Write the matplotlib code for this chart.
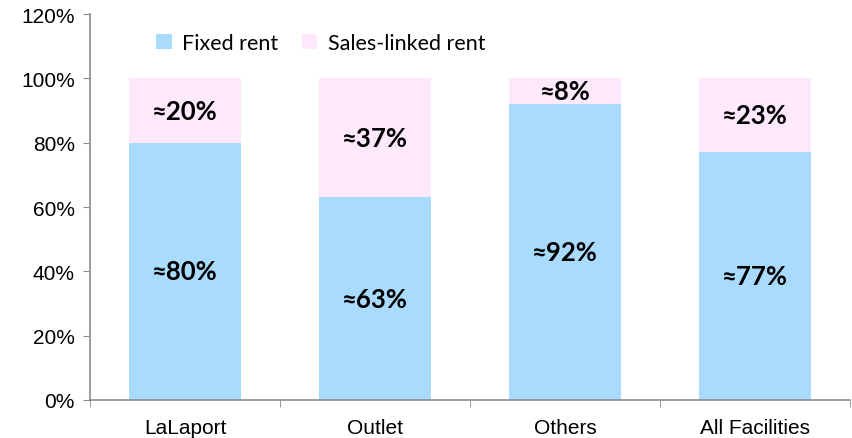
import matplotlib.pyplot as plt
import numpy as np
from matplotlib.ticker import FuncFormatter

categories = ["LaLaport", "Outlet", "Others", "All Facilities"]
fixed_rent = [80, 63, 92, 77]
sales_linked = [20, 37, 8, 23]
fixed_labels = ["≈80%", "≈63%", "≈92%", "≈77%"]
sales_labels = ["≈20%", "≈37%", "≈8%", "≈23%"]

BLUE = "#A9DBFE"
PINK = "#FDE8FC"
AXIS = "#8c8c8c"

fig = plt.figure(figsize=(8.52, 4.39), dpi=100, facecolor="white")
ax = fig.add_axes([0.1056, 0.0866, 0.892, 0.879])

x = np.arange(len(categories))
w = 0.59
ax.bar(x, fixed_rent, width=w, color=BLUE, label="Fixed rent")
ax.bar(x, sales_linked, width=w, bottom=fixed_rent, color=PINK, label="Sales-linked rent")

lab_font = dict(family=["Lato", "DejaVu Sans"], fontsize=18.5, fontweight="bold", color="black")
for xi, f, s, fl, sl in zip(x, fixed_rent, sales_linked, fixed_labels, sales_labels):
    ax.text(xi, f / 2, fl, ha="center", va="center", **lab_font)
    ax.text(xi, f + s / 2, sl, ha="center", va="center", **lab_font)

ax.set_xlim(-0.5, len(categories) - 0.5)
ax.set_ylim(0, 120)
ax.set_yticks(np.arange(0, 121, 20))
ax.yaxis.set_major_formatter(FuncFormatter(lambda v, _: f"{v:.0f}%"))
ax.set_xticks(x)
ax.set_xticklabels(categories)
ax.set_xticks(np.arange(-0.5, len(categories), 1.0), minor=True)
ax.tick_params(axis="x", which="major", length=0, pad=13, labelsize=15)
ax.tick_params(axis="x", which="minor", length=5, color=AXIS, direction="out")
ax.tick_params(axis="y", length=5, color=AXIS, direction="out", labelsize=15, pad=6)
for lbl in ax.get_xticklabels() + ax.get_yticklabels():
    lbl.set_family(["Liberation Sans", "DejaVu Sans"])

for side in ("top", "right"):
    ax.spines[side].set_visible(False)
for side in ("left", "bottom"):
    ax.spines[side].set_color(AXIS)
    ax.spines[side].set_linewidth(1.2)

ax.legend(loc="upper left", bbox_to_anchor=(0.062, 1.0), ncol=2, frameon=False,
          prop={"family": ["Lato", "DejaVu Sans"], "size": 15.5},
          handlelength=0.7, handleheight=0.7, handletextpad=0.5, columnspacing=1.1)

fig.savefig("out.png", dpi=100)
